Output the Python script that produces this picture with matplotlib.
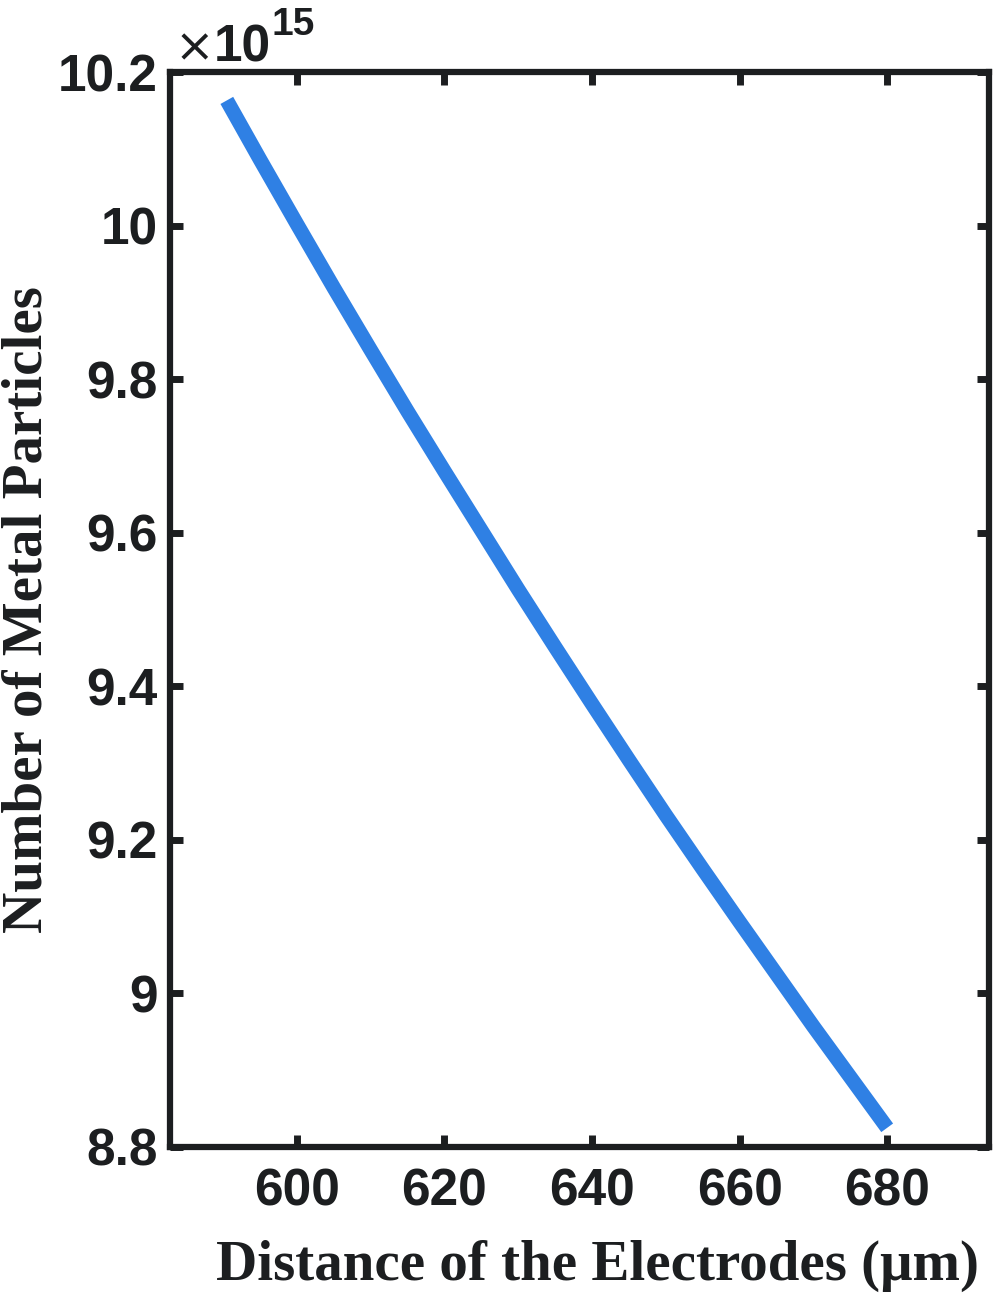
import numpy as np
import matplotlib
matplotlib.use("Agg")
import matplotlib.pyplot as plt

# distance of the electrodes (um) and particle count (x 1e15)
distance_um = [590.5, 595, 600, 605, 610, 615, 620, 625, 630, 635, 640,
               645, 650, 655, 660, 665, 670, 675, 680]
particles_e15 = [10.163, 10.086, 10.002, 9.919, 9.838, 9.758, 9.680, 9.603,
                 9.526, 9.451, 9.377, 9.304, 9.232, 9.162, 9.093, 9.025,
                 8.957, 8.891, 8.825]

x_ticks = [600, 620, 640, 660, 680]
y_ticks = [8.8, 9.0, 9.2, 9.4, 9.6, 9.8, 10.0, 10.2]
y_ticklabels = ["8.8", "9", "9.2", "9.4", "9.6", "9.8", "10", "10.2"]

INK = "#1c1e20"
LINE_COLOR = "#2f80e4"

fig = plt.figure(figsize=(10, 13), dpi=100)
ax = fig.add_axes([0.170, 1 - 1147 / 1300, 0.819, (1147 - 72) / 1300])

ax.plot(distance_um, particles_e15, color=LINE_COLOR, lw=10.5, solid_capstyle="butt")

ax.set_xlim(582.8, 693.8)
ax.set_ylim(8.8, 10.2)
ax.set_xticks(x_ticks)
ax.set_yticks(y_ticks)
ax.set_yticklabels(y_ticklabels)

for sp in ax.spines.values():
    sp.set_linewidth(4.5)
    sp.set_color(INK)

ax.tick_params(direction="in", length=9, width=5, color=INK,
               top=True, right=True, labelsize=37, labelcolor=INK)
ax.tick_params(axis="x", pad=15)
ax.tick_params(axis="y", pad=9)
for lab in ax.get_xticklabels() + ax.get_yticklabels():
    lab.set_fontfamily("Liberation Sans")
    lab.set_fontweight("bold")

# exponent marker above the y axis
fig.text(0.175, 1 - 61 / 1300, "\u00d7", fontsize=34, family="DejaVu Sans",
         color=INK, va="baseline")
fig.text(0.214, 1 - 62 / 1300, "10", fontsize=37, family="Liberation Sans",
         fontweight="bold", color=INK, va="baseline")
fig.text(0.272, 1 - 35 / 1300, "15", fontsize=28, family="Liberation Sans",
         fontweight="bold", color=INK, va="baseline")

fig.text(0.597, 1 - 1280 / 1300, "Distance of the Electrodes (\u03bcm)", fontsize=41,
         family="Liberation Serif", fontweight="bold", color=INK,
         ha="center", va="baseline")
fig.text(0.028, 1 - 610 / 1300, "Number of Metal Particles", fontsize=41,
         family="Liberation Serif", fontweight="bold", color=INK,
         ha="center", va="center", rotation=90)

fig.savefig("out.png", dpi=100, facecolor="white")
